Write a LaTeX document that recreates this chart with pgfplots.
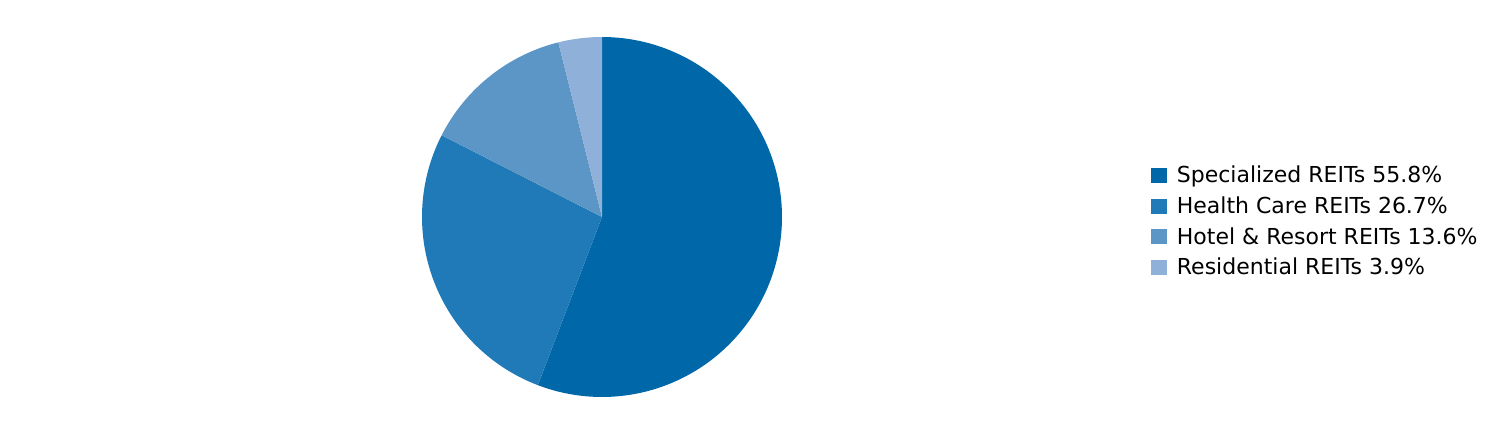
\documentclass[border=0pt]{standalone}
\usepackage{fontspec}
\setmainfont{DejaVu Sans}
\usepackage{pgfplots}
\pgfplotsset{compat=1.18}
\definecolor{c1}{RGB}{0,103,168}
\definecolor{c2}{RGB}{31,122,183}
\definecolor{c3}{RGB}{92,150,198}
\definecolor{c4}{RGB}{143,176,217}
\begin{document}
\begin{tikzpicture}
\begin{axis}[
  scale only axis, width=756pt, height=222pt,
  xmin=0, xmax=1512, ymin=0, ymax=444,
  hide axis, clip=false,
  legend cell align=left,
  legend style={at={(axis cs:1151,282.5)}, anchor=north west, draw=none, fill=none,
    font=\fontsize{11}{13.2}\selectfont, inner sep=0pt, row sep=1.5pt,
    /tikz/every odd column/.append style={column sep=0pt}},
  legend image code/.code={\fill[#1] (0pt,-3.6pt) rectangle (8pt,3.9pt); \path (10.75pt,0pt);},
]
% pie centre (602,227), radius 180, start at top, clockwise
\addplot[fill=c1, draw=none, domain={90-3.6*55.8}:90, samples=120]
  ({602+180*cos(x)}, {227+180*sin(x)}) -- (axis cs:602,227) -- cycle;
\addlegendentry{Specialized REITs 55.8\%}
\addplot[fill=c2, draw=none, domain={90-3.6*(55.8+26.7)}:{90-3.6*55.8}, samples=80]
  ({602+180*cos(x)}, {227+180*sin(x)}) -- (axis cs:602,227) -- cycle;
\addlegendentry{Health Care REITs 26.7\%}
\addplot[fill=c3, draw=none, domain={90-3.6*(55.8+26.7+13.6)}:{90-3.6*(55.8+26.7)}, samples=50]
  ({602+180*cos(x)}, {227+180*sin(x)}) -- (axis cs:602,227) -- cycle;
\addlegendentry{Hotel \& Resort REITs 13.6\%}
\addplot[fill=c4, draw=none, domain={90-3.6*(55.8+26.7+13.6+3.9)}:{90-3.6*(55.8+26.7+13.6)}, samples=20]
  ({602+180*cos(x)}, {227+180*sin(x)}) -- (axis cs:602,227) -- cycle;
\addlegendentry{Residential REITs 3.9\%}
\coordinate (bl) at (axis cs:0,0);
\coordinate (tr) at (axis cs:1512,444);
\end{axis}
\pgfresetboundingbox
\useasboundingbox (bl) rectangle (tr);
\end{tikzpicture}
\end{document}
